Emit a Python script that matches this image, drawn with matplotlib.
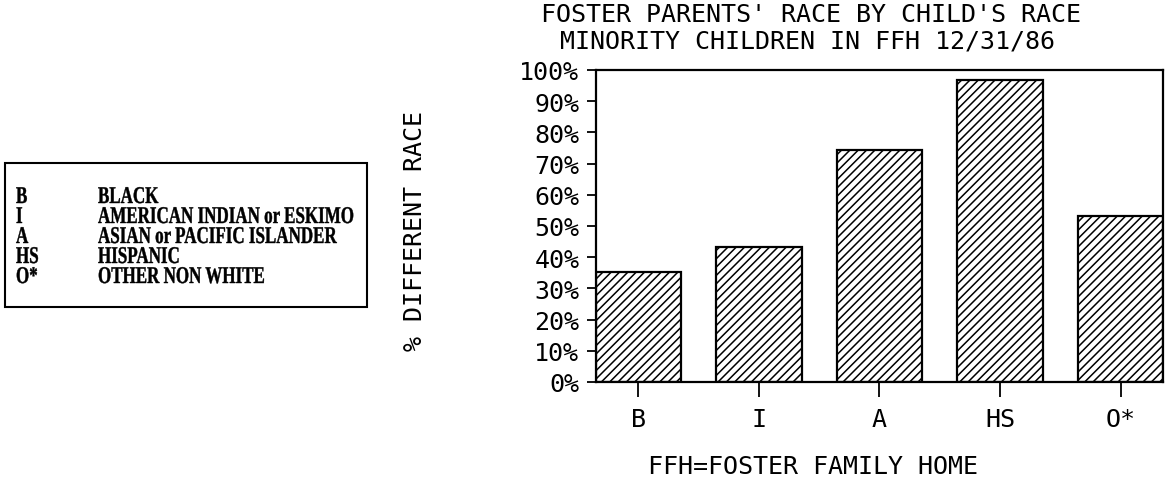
import numpy as np
import matplotlib
matplotlib.use('Agg')
import matplotlib.pyplot as plt
from matplotlib.patches import Rectangle, PathPatch
from matplotlib.textpath import TextPath
from matplotlib.font_manager import FontProperties
from matplotlib.transforms import Affine2D

# data
codes = ['B', 'I', 'A', 'HS', 'O*']
race_names = ['BLACK', 'AMERICAN INDIAN or ESKIMO', 'ASIAN or PACIFIC ISLANDER',
              'HISPANIC', 'OTHER NON WHITE']
pct_diff_race = [35.4, 43.4, 74.4, 96.9, 53.3]
yticks = list(range(0, 101, 10))

W, H = 1165, 481
mono = 'DejaVu Sans Mono'
plt.rcParams['hatch.linewidth'] = 1.1
fig = plt.figure(figsize=(W / 100, H / 100), dpi=100)

ax = fig.add_axes([596 / W, 98 / H, 567 / W, 312 / H])
x = np.arange(len(codes))
ax.bar(x, pct_diff_race, width=0.71, color='white', edgecolor='black',
       linewidth=1.6, hatch='////')

ax.set_xlim(-0.351, 4.351)
ax.set_ylim(0, 100)
ax.set_xticks(x)
ax.set_xticklabels(codes, family=mono, fontsize=18)
ax.set_yticks(yticks)
ax.set_yticklabels(['%d%%' % v for v in yticks], family=mono, fontsize=18)
ax.tick_params(axis='y', direction='out', length=6.5, width=1.3, pad=5.5)
ax.tick_params(axis='x', direction='out', length=11, width=1.3, pad=7)
for s in ax.spines.values():
    s.set_linewidth(1.6)

fig.text(811 / W, 1 - 14.5 / H, "FOSTER PARENTS' RACE BY CHILD'S RACE",
         family=mono, fontsize=18, ha='center', va='center')
fig.text(808 / W, 1 - 41.7 / H, "MINORITY CHILDREN IN FFH 12/31/86",
         family=mono, fontsize=18, ha='center', va='center')
fig.text(813 / W, 1 - 467 / H, "FFH=FOSTER FAMILY HOME",
         family=mono, fontsize=18, ha='center', va='center')
fig.text(415 / W, 1 - 231 / H, "% DIFFERENT RACE", family=mono, fontsize=18,
         rotation=90, ha='center', va='center')

# legend box on the left, condensed bold lettering
fig.add_artist(Rectangle((5 / W, 1 - 308 / H), 362 / W, 144 / H,
                         transform=fig.transFigure, fill=False,
                         edgecolor='black', linewidth=1.5))

prop = FontProperties(family='Liberation Serif', weight='bold')
em = 24.0  # px
ref = TextPath((0, 0), race_names[1], size=em, prop=prop)
sx = 255.0 / ref.get_extents().width


def narrow_text(s, x_px, y_px):
    tp = TextPath((0, 0), s, size=em, prop=prop)
    tr = Affine2D().scale(sx, 1.0).translate(x_px, H - y_px - 8)
    fig.add_artist(PathPatch(tp, transform=tr, facecolor='black',
                             edgecolor='black', linewidth=0.3))


for i, (c, n) in enumerate(zip(codes, race_names)):
    yy = 196 + i * 20
    narrow_text(c, 16, yy)
    narrow_text(n, 98, yy)

fig.savefig('out.png', dpi=100)
